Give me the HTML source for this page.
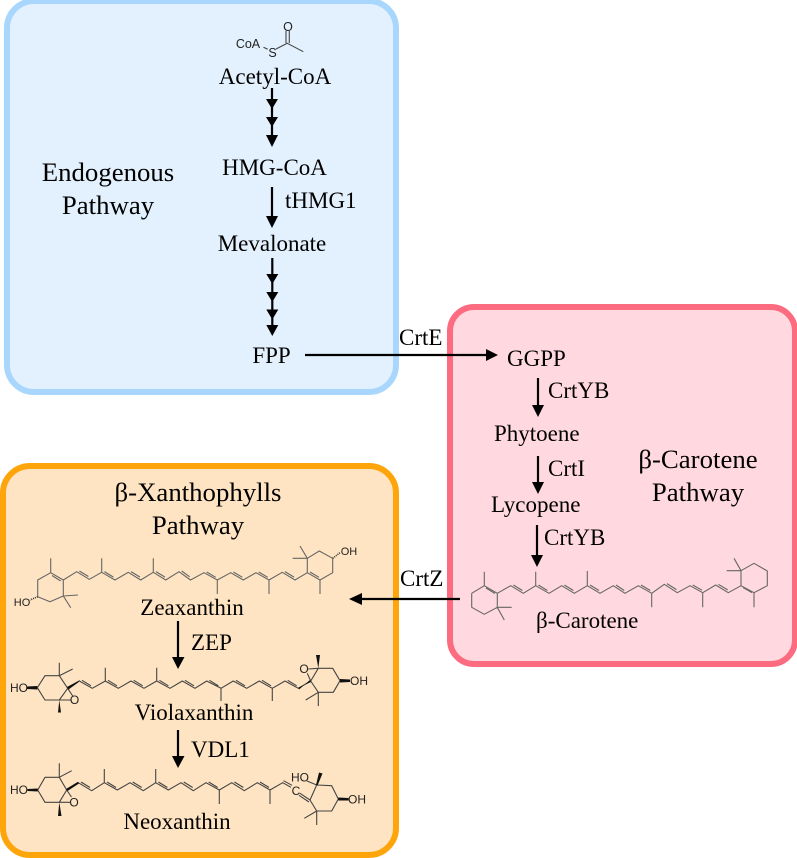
<!DOCTYPE html>
<html>
<head>
<meta charset="utf-8">
<style>
html,body{margin:0;padding:0;background:#fff}
svg{display:block}
.t{font-family:"Liberation Serif","DejaVu Serif",serif;font-size:23px;fill:#000}
.h{font-family:"Liberation Serif","DejaVu Serif",serif;font-size:26.8px;fill:#000;text-anchor:middle}
.c{text-anchor:middle}
.a{font-family:"Liberation Sans",sans-serif;font-size:12px;fill:#222;text-anchor:middle}
.m{fill:none;stroke:#666;stroke-width:1.1;stroke-linejoin:round}
.k{fill:none;stroke:#444;stroke-width:1.1;stroke-linejoin:round}
.w{fill:#111;stroke:none}
.ar{stroke:#000;stroke-width:2.2;fill:none}
</style>
</head>
<body>
<svg width="797" height="858" viewBox="0 0 797 858" xmlns="http://www.w3.org/2000/svg">
<rect width="797" height="858" fill="#fff"/>

<!-- panels -->
<rect x="7" y="1" width="389" height="391" rx="27" fill="#e3f1fe" stroke="#a8d6fc" stroke-width="6"/>
<rect x="450" y="307" width="345" height="357" rx="24" fill="#ffd9df" stroke="#fd6b80" stroke-width="6"/>
<rect x="3" y="466" width="393" height="389" rx="27" fill="#fee4c2" stroke="#ffa50c" stroke-width="6"/>

<!-- titles -->
<text class="h" x="108" y="181">Endogenous</text>
<text class="h" x="108" y="214">Pathway</text>
<text class="h" x="698" y="468">β-Carotene</text>
<text class="h" x="698" y="501">Pathway</text>
<text class="h" x="198" y="501">β-Xanthophylls</text>
<text class="h" x="198" y="534">Pathway</text>

<!-- labels -->
<text class="t c" x="275" y="84">Acetyl-CoA</text>
<text class="t c" x="274.5" y="175">HMG-CoA</text>
<text class="t" x="285" y="208">tHMG1</text>
<text class="t c" x="272" y="251">Mevalonate</text>
<text class="t c" x="271.5" y="363">FPP</text>
<text class="t" x="399" y="345">CrtE</text>
<text class="t" x="507" y="366">GGPP</text>
<text class="t" x="548" y="398">CrtYB</text>
<text class="t" x="494" y="441">Phytoene</text>
<text class="t" x="548" y="476">CrtI</text>
<text class="t" x="491" y="512">Lycopene</text>
<text class="t" x="544" y="545">CrtYB</text>
<text class="t" x="536" y="628">β-Carotene</text>
<text class="t" x="400" y="586">CrtZ</text>
<text class="t c" x="192" y="615">Zeaxanthin</text>
<text class="t" x="191" y="650">ZEP</text>
<text class="t c" x="194" y="720">Violaxanthin</text>
<text class="t" x="191" y="757">VDL1</text>
<text class="t c" x="177" y="829">Neoxanthin</text>

<!-- arrows -->
<g class="ar">
<path d="M272 88V138"/>
<path d="M272 187V220"/>
<path d="M272.3 258V328"/>
<path d="M305 355H488"/>
<path d="M538 378V408"/>
<path d="M538 456V485"/>
<path d="M537 525V557"/>
<path d="M460 599H360"/>
<path d="M178 621V660"/>
<path d="M178 730V759"/>
</g>
<g fill="#000">
<path d="M266 99H278L272 109Z"/>
<path d="M266 117H278L272 127Z"/>
<path d="M266 135H278L272 147Z"/>
<path d="M266 216H278L272 228Z"/>
<path d="M266.3 274H278.3L272.3 284Z"/>
<path d="M266.3 292H278.3L272.3 302Z"/>
<path d="M266.3 309.500H278.300L272.3 319.500Z"/>
<path d="M266.3 325H278.3L272.3 336Z"/>
<path d="M486 349V361L498 355Z"/>
<path d="M532 405H544L538 417Z"/>
<path d="M532 482H544L538 494Z"/>
<path d="M531 555H543L537 567Z"/>
<path d="M362 593V605L349 599Z"/>
<path d="M172 657H184.500L178 669Z"/>
<path d="M172 756H184.500L178 768Z"/>
</g>

<!-- acetyl-CoA -->
<text class="a" x="248" y="48" style="font-size:12.5px">CoA</text>
<text class="a" x="272.500" y="57" style="font-size:12.500px">S</text>
<text class="a" x="288" y="31" style="font-size:12.500px">O</text>
<path class="k" d="M263.500 47.300L267.700 49.300M276 49L287.300 43.300L303.300 51.700M286 31V43M289.300 31V43"/>

<!-- zeaxanthin -->
<path class="m" d="M37.700 596.700V580L50.700 572.700L63.300 580V596L50 601.700L37.700 596.700M50.700 572.700V558.300M63.300 596L78 595M63.300 596L70.700 607.700
M63.300 580L76.700 571.700L89.300 579.300L101.700 572.300L115 580L128.300 572.300L140.700 580L153.300 572.300L165.700 580L179 571.700L190.500 580L204 572.700L217.300 580L230.700 572.700L243.300 580L256 572.700L269 580L282.300 572.300L295 580L307.300 572.700L320 580L332.700 572.700V558.300L319.300 551L307.300 558.300V572.700
M101.700 572.300V558.300M153.300 572.300V558.300M217.300 580V594M269 580V594M320 580V594M307.300 558.300L300 546M307.300 558.300H292.700
M52 575.500L60.700 581M79.400 571l9 5.500M104.400 571.600l9 5.500M131 571.600l9 5.500M156 571.600l9 5.500M181.700 571l8 5.800M206.700 572l9 5.300M233.400 572l9 5.300M258.700 572l9 5.300M285 571.600l9 5.500M310 572l9 5.300"/>
<text class="a" x="22" y="606" style="font-size:11px">HO</text>
<path d="M37.700 596.700L30 600" stroke="#333" stroke-width="1.600" stroke-dasharray="1 1" fill="none"/>
<text class="a" x="349" y="555" style="font-size:11px">OH</text>
<path d="M332.700 558.300L340 552.700" stroke="#333" stroke-width="1.600" stroke-dasharray="1 1" fill="none"/>

<!-- violaxanthin -->
<path class="k" d="M37.300 687.700L45 675.700H59.300L67.700 688.300L59.300 700H45L37.300 687.700M59.300 675.700V662.700M59.300 675.700L72.700 669M67.700 688.300L72.700 696M59.300 700H70.500
M79.300 681L92.300 688.300L105.300 681L118.300 688.300L131 681L144 688.300L156.700 681L170 688.300L182.300 681L195 688.300L206.700 681L221 688.300L233.300 681L246.700 688.300L259.300 681L272.300 688.300L285 681L298.300 688.300L310.700 681
M105.300 681V667.700M156.700 681V667.700M221 688.300V701M272.300 688.300V701
M82 680.300l9 5.500M108 680.300l9 5.500M133.700 680.300l9 5.500M159.400 680.300l9 5.500M185 680.300l9 5.500M209.400 680.300l9 5.500M236 680.300l9 5.500M262 680.300l9 5.500M287.700 680.300l9 5.500
M310.700 681L318.300 668.300H332.700L340 680.700L333.300 692.300H318.300L310.700 681M318.300 692.300L305.700 700M318.300 692.300V706M307.300 673.300L310.700 681M308.300 669L318.300 668.300"/>
<path class="w" d="M37.300 686L27 686.500V689L37.300 689.500ZM67 687L80 680L78.500 682.300L68.500 689.500ZM59.300 700L58 712.500H61ZM311 682L298.500 687.500L299 689.500L310 680ZM318.300 668.300L316 655H320ZM340 679L350 679.500V682L340 682.500Z"/>
<text class="a" x="19" y="692" style="font-size:12px">HO</text>
<text class="a" x="74.500" y="704" style="font-size:12px">O</text>
<text class="a" x="304" y="673" style="font-size:12px">O</text>
<text class="a" x="359" y="685" style="font-size:12px">OH</text>

<!-- neoxanthin -->
<path class="k" d="M37.700 790L45 777.300H59.300L66.700 790L59.300 802.300H45L37.700 790M59.300 777.300V763.300M59.300 777.300L71.700 770.700M66.700 790L71.500 797M59.300 802.300H70
M78.300 782.700L91.700 790.700L104.300 782.700L117.300 790L130 782.700L143.300 790.700L155.700 782.700L168.300 790L181 782.700L193.300 790.700L206 782.700L219.300 790L231.700 782.700L244.300 790.700L257.300 782.700L270 790L282.700 782.700L291 787.300
M104.300 782.700V769M155.700 782.700V769M219.300 790V804M270 790V804
M81 782l9 5.500M107 782l9 5.500M132.700 782l9 5.500M158.400 782l9 5.500M183.700 782l9 5.500M208.700 782l9 5.500M234.400 782l9 5.500M260 782l9 5.500M283.500 780.700L292 785.300
M300 793.300L310 800M299 795.300L309 802M310 800L316.700 785L331.700 785.700L338.300 799L331.700 811H316.700L310 800M316.700 811L304.300 818.300M316.700 811V825M316.700 785L307 781"/>
<path class="w" d="M37.700 788.500L27.500 789V791L37.700 791.500ZM66 789L78 781.800L79 783.500L67.500 791ZM59.300 802.300L58 816H61.500ZM316 785L319 772.500L322.500 773.500L317.500 785.500ZM338.300 797.500L348.500 798V800.500L338.300 800.500Z"/>
<text class="a" x="19" y="794" style="font-size:12px">HO</text>
<text class="a" x="74" y="806.500" style="font-size:12px">O</text>
<text class="a" x="296" y="795" style="font-size:12px">C</text>
<text class="a" x="300" y="781.500" style="font-size:12px">HO</text>
<text class="a" x="357" y="803.500" style="font-size:12px">OH</text>

<!-- beta-carotene -->
<path class="m" d="M471.700 593.300L484.300 585.700L497.300 593.300V607.300L484.300 614.300L471.700 607.300V593.300M484.300 585.700V571.700M497.300 607.300H511.700M497.300 607.300L504.300 620
M497.300 593.300L510.700 585.700L523.300 593.300L535.700 585.700L549 593.300L561.700 585.700L574.300 593.300L587.300 585.700L600 593.300L613.300 585.700L625 593.300L638.300 585.700L651.700 593.300L664.300 584.300L677.300 592.700L690 585.700L702.700 592.700L715.700 585L728.300 592.700L741 585.700L754 592.700L767.300 585.700V571L754 563.300L741 570.700V585.700
M535.700 585.700V571.700M587.300 585.700V571M651.700 593.300V607.300M702.700 592.700V607.300M754 592.700V607.300M741 570.700L734 558.300M741 570.700H726.700
M486 588l9 5.500M513.400 585l9 5.500M538.400 585l9 5.500M564.400 585l9 5.500M590 585l9 5.500M616 585l8.300 5.500M641 585l9.300 5.500M667 583.600l9.500 6M692.700 585l9.300 5.200M718.400 584.300l9.300 5.600M743 587.500l9 5.200"/>
</svg>
</body>
</html>
